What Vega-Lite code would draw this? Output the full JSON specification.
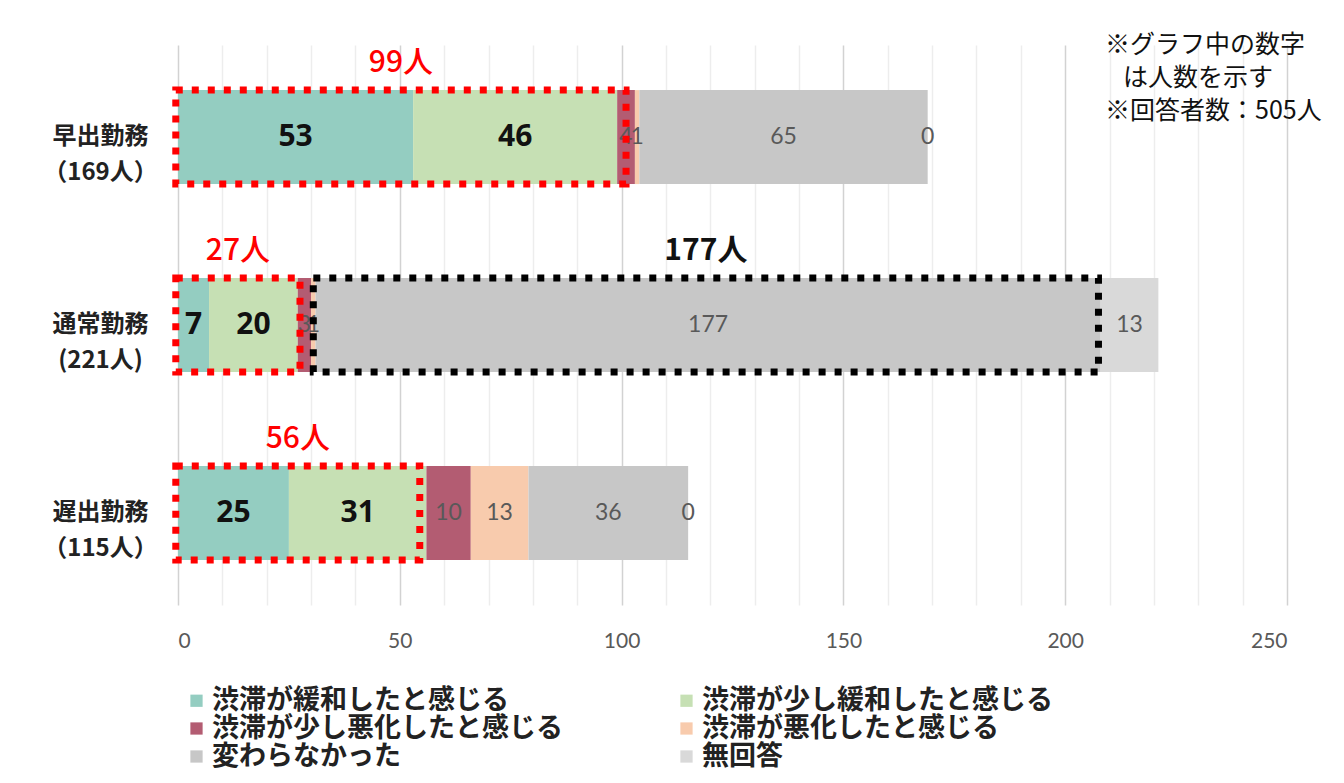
{
  "$schema": "https://vega.github.io/schema/vega-lite/v6.json",
  "width": 1109,
  "height": 560,
  "autosize": {"type": "none"},
  "padding": {"left": 178, "top": 45, "right": 57, "bottom": 178},
  "background": "white",
  "config": {"view": {"stroke": null}, "font": "Noto Sans CJK JP"},
  "title": {
    "text": ["※グラフ中の数字", "\u2800は人数を示す", "※回答者数：505人"],
    "orient": "top",
    "anchor": "end",
    "align": "left",
    "baseline": "top",
    "dx": -182,
    "dy": 83,
    "fontSize": 25,
    "fontWeight": "normal",
    "lineHeight": 33,
    "color": "#111111",
    "font": "Noto Sans CJK JP"
  },
  "datasets": {
    "resp": [
      {"g": "早出勤務", "c": "渋滞が緩和したと感じる", "o": 1, "v": 53},
      {"g": "早出勤務", "c": "渋滞が少し緩和したと感じる", "o": 2, "v": 46},
      {"g": "早出勤務", "c": "渋滞が少し悪化したと感じる", "o": 3, "v": 4},
      {"g": "早出勤務", "c": "渋滞が悪化したと感じる", "o": 4, "v": 1},
      {"g": "早出勤務", "c": "変わらなかった", "o": 5, "v": 65},
      {"g": "早出勤務", "c": "無回答", "o": 6, "v": 0},
      {"g": "通常勤務", "c": "渋滞が緩和したと感じる", "o": 1, "v": 7},
      {"g": "通常勤務", "c": "渋滞が少し緩和したと感じる", "o": 2, "v": 20},
      {"g": "通常勤務", "c": "渋滞が少し悪化したと感じる", "o": 3, "v": 3},
      {"g": "通常勤務", "c": "渋滞が悪化したと感じる", "o": 4, "v": 1},
      {"g": "通常勤務", "c": "変わらなかった", "o": 5, "v": 177},
      {"g": "通常勤務", "c": "無回答", "o": 6, "v": 13},
      {"g": "遅出勤務", "c": "渋滞が緩和したと感じる", "o": 1, "v": 25},
      {"g": "遅出勤務", "c": "渋滞が少し緩和したと感じる", "o": 2, "v": 31},
      {"g": "遅出勤務", "c": "渋滞が少し悪化したと感じる", "o": 3, "v": 10},
      {"g": "遅出勤務", "c": "渋滞が悪化したと感じる", "o": 4, "v": 13},
      {"g": "遅出勤務", "c": "変わらなかった", "o": 5, "v": 36},
      {"g": "遅出勤務", "c": "無回答", "o": 6, "v": 0}
    ],
    "boxes": [
      {"g": "早出勤務", "b0": -0.5, "b1": 101, "col": "#FF0000", "t": "99人", "k": "red"},
      {"g": "通常勤務", "b0": -0.5, "b1": 27.5, "col": "#FF0000", "t": "27人", "k": "red"},
      {"g": "遅出勤務", "b0": -0.5, "b1": 54.5, "col": "#FF0000", "t": "56人", "k": "red"},
      {"g": "通常勤務", "b0": 30.5, "b1": 207.5, "col": "#000000", "t": "177人", "k": "black"}
    ]
  },
  "encoding": {
    "y": {
      "field": "g",
      "type": "nominal",
      "sort": ["早出勤務", "通常勤務", "遅出勤務"],
      "scale": {"paddingInner": 0.5, "paddingOuter": 0.24},
      "axis": {
        "title": null,
        "domain": false,
        "ticks": false,
        "labelAlign": "center",
        "labelBaseline": "middle",
        "labelPadding": 78,
        "labelFontSize": 24,
        "labelFontWeight": "bold",
        "labelColor": "#222222",
        "labelLineHeight": 36,
        "labelFont": "Noto Sans CJK JP",
        "labelExpr": "datum.value == '早出勤務' ? ['早出勤務', '（169人）'] : datum.value == '通常勤務' ? ['通常勤務', '(221人)'] : ['遅出勤務', '（115人）']"
      }
    }
  },
  "layer": [
    {
      "data": {"name": "resp"},
      "transform": [
        {"stack": "v", "groupby": ["g"], "sort": [{"field": "o"}], "as": ["x0", "x1"]}
      ],
      "mark": {"type": "bar"},
      "encoding": {
        "x": {
          "field": "x0",
          "type": "quantitative",
          "scale": {"domain": [0, 250], "nice": false},
          "axis": {
            "title": null,
            "values": [0, 10, 20, 30, 40, 50, 60, 70, 80, 90, 100, 110, 120, 130, 140, 150, 160, 170, 180, 190, 200, 210, 220, 230, 240, 250],
            "labelExpr": "datum.value % 50 === 0 ? datum.label : ''",
            "domain": false,
            "ticks": false,
            "labelPadding": 25,
            "labelFontSize": 21,
            "labelColor": "#595959",
            "labelFont": "Lato",
            "grid": true,
            "gridWidth": 1.5,
            "gridColor": {"condition": {"test": "datum.value % 50 === 0", "value": "#d2d2d2"}, "value": "#ededed"}
          }
        },
        "x2": {"field": "x1"},
        "color": {
          "field": "c",
          "type": "nominal",
          "scale": {
            "domain": ["渋滞が緩和したと感じる", "渋滞が少し緩和したと感じる", "渋滞が少し悪化したと感じる", "渋滞が悪化したと感じる", "変わらなかった", "無回答"],
            "range": ["#94CDC1", "#C6E0B4", "#B35C72", "#F8CBAD", "#C7C7C7", "#D9D9D9"]
          },
          "legend": {
            "title": null,
            "orient": "none",
            "direction": "horizontal",
            "legendX": 5,
            "legendY": 642,
            "columns": 2,
            "columnPadding": 110,
            "rowPadding": 0,
            "symbolType": "square",
            "symbolSize": 150,
            "symbolStrokeWidth": 0,
            "labelFontSize": 27,
            "labelFontWeight": "bold",
            "labelColor": "#222222",
            "labelFont": "Noto Sans CJK JP",
            "labelOffset": 2,
            "labelLimit": 500
          }
        }
      }
    },
    {
      "data": {"name": "resp"},
      "transform": [
        {"stack": "v", "groupby": ["g"], "sort": [{"field": "o"}], "as": ["x0", "x1"]},
        {"calculate": "(datum.x0 + datum.x1) / 2", "as": "mid"},
        {"filter": "datum.o <= 2"}
      ],
      "mark": {"type": "text", "fontSize": 30, "fontWeight": "bold", "color": "#111111", "font": "Noto Sans", "baseline": "middle"},
      "encoding": {
        "x": {"field": "mid", "type": "quantitative"},
        "text": {"field": "v", "type": "quantitative"}
      }
    },
    {
      "data": {"name": "resp"},
      "transform": [
        {"stack": "v", "groupby": ["g"], "sort": [{"field": "o"}], "as": ["x0", "x1"]},
        {"calculate": "(datum.x0 + datum.x1) / 2", "as": "mid"},
        {"filter": "datum.o > 2"}
      ],
      "mark": {"type": "text", "fontSize": 23, "color": "#595959", "font": "Lato", "baseline": "middle"},
      "encoding": {
        "x": {"field": "mid", "type": "quantitative"},
        "text": {"field": "v", "type": "quantitative"}
      }
    },
    {
      "data": {"name": "boxes"},
      "mark": {"type": "bar", "fill": null, "fillOpacity": 0, "strokeWidth": 7, "strokeDash": [7, 9]},
      "encoding": {
        "x": {"field": "b0", "type": "quantitative"},
        "x2": {"field": "b1"},
        "stroke": {"field": "col", "type": "nominal", "scale": null}
      }
    },
    {
      "data": {"name": "boxes"},
      "transform": [
        {"calculate": "(datum.b0 + datum.b1) / 2", "as": "bm"},
        {"filter": "datum.k == 'red'"}
      ],
      "mark": {"type": "text", "fontSize": 30, "fontWeight": 500, "color": "#FF0000", "font": "Noto Sans CJK JP", "baseline": "middle", "dy": -74},
      "encoding": {
        "x": {"field": "bm", "type": "quantitative"},
        "text": {"field": "t", "type": "nominal"}
      }
    },
    {
      "data": {"name": "boxes"},
      "transform": [
        {"calculate": "(datum.b0 + datum.b1) / 2", "as": "bm"},
        {"filter": "datum.k == 'black'"}
      ],
      "mark": {"type": "text", "fontSize": 30, "fontWeight": "bold", "color": "#111111", "font": "Noto Sans CJK JP", "baseline": "middle", "dy": -74},
      "encoding": {
        "x": {"field": "bm", "type": "quantitative"},
        "text": {"field": "t", "type": "nominal"}
      }
    }
  ]
}
